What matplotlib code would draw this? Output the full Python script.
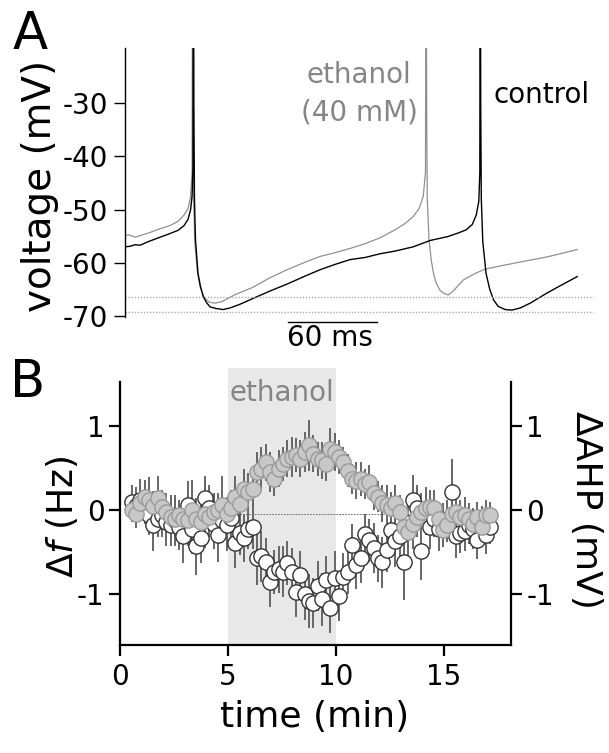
import numpy as np
import matplotlib
matplotlib.use("Agg")
import matplotlib.pyplot as plt

plt.rcParams['font.family'] = ['DejaVu Sans']
plt.rcParams['mathtext.fontset'] = 'dejavusans'
plt.rcParams['axes.unicode_minus'] = False

# ---------------- Panel A: membrane potential traces (time in ms, voltage in mV)
ctrl_t = [0, 3.4, 6.8, 10.1, 16.9, 23.6, 30.4, 35.8, 39.9, 42.6, 44.3, 45.3, 45.9, 46.2,
          46.5, 46.9, 47.6, 49.3, 51.0, 52.9, 55.1, 57.4, 61.5, 66.2, 70.9, 77.7, 86.5,
          98.0, 109.5, 121.6, 131.8, 141.9, 152.0, 162.2, 172.3, 182.4, 194.6, 206.1,
          217.6, 225.0, 230.4, 234.5, 237.2, 238.9, 239.6, 239.9, 240.2, 240.6, 241.6,
          243.8, 246.3, 248.9, 252.0, 256.8, 261.3, 266.9, 273.6, 284.9, 294.0, 305.4]
ctrl_v = [-57.0, -56.9, -56.6, -56.7, -55.9, -55.2, -54.5, -53.9, -53.0, -51.8, -50.0,
          -47.5, -42.0, 20.0, -30.0, -48.0, -55.7, -62.0, -64.5, -66.4, -67.5, -68.3,
          -68.6, -68.8, -68.5, -67.8, -66.7, -65.3, -64.0, -62.5, -61.3, -60.3, -59.4,
          -59.0, -58.3, -57.8, -57.0, -55.8, -55.1, -54.4, -53.8, -52.8, -51.0, -48.5,
          -43.0, 20.0, -30.0, -48.0, -56.0, -62.0, -65.0, -67.0, -68.2, -68.8, -68.9,
          -68.5, -67.6, -65.7, -64.3, -62.6]

eth_t = [0, 3.4, 6.8, 10.1, 16.9, 23.6, 30.4, 35.8, 39.9, 42.6, 44.3, 45.3, 45.7, 46.0,
         46.4, 47.1, 48.8, 50.7, 53.4, 56.8, 60.8, 65.5, 74.3, 86.5, 98.0, 109.5, 121.6,
         131.8, 141.9, 152.0, 162.2, 172.3, 182.4, 189.2, 194.6, 198.6, 201.4, 202.9,
         203.4, 203.7, 204.1, 205.3, 206.8, 208.3, 210.1, 212.8, 215.5, 218.4, 221.6,
         228.6, 236.5, 243.2, 253.4, 262.4, 273.6, 284.9, 294.0, 305.4]
eth_v = [-54.8, -54.8, -55.2, -54.9, -54.3, -53.6, -53.0, -52.2, -51.0, -49.8, -47.5,
         -43.0, 20.0, -30.0, -48.0, -56.0, -61.5, -64.5, -66.5, -67.4, -67.6, -67.3,
         -66.0, -64.6, -62.8, -61.3, -59.9, -58.8, -58.1, -57.3, -56.4, -55.3, -53.8,
         -52.6, -51.3, -49.8, -47.5, -43.0, 20.0, -30.0, -48.0, -55.7, -59.5, -62.0,
         -63.8, -65.2, -65.8, -66.05, -65.3, -63.2, -62.0, -61.2, -60.6, -60.1, -59.5,
         -58.9, -58.3, -57.5]

ahp_levels = [-66.4, -69.25]          # dotted reference lines (mV)
volt_ticks = [-30, -40, -50, -60, -70]
scalebar_ms = [110, 170]

# ---------------- Panel B: time course (min)
time_min = [0.55, 0.75, 0.95, 1.15, 1.35, 1.55, 1.75, 1.95, 2.15, 2.35, 2.55, 2.75,
            2.95, 3.15, 3.35, 3.55, 3.75, 3.95, 4.15, 4.35, 4.55, 4.75, 4.95, 5.15,
            5.35, 5.55, 5.75, 5.95, 6.15, 6.35, 6.55, 6.75, 6.95, 7.15, 7.35, 7.55,
            7.75, 7.95, 8.15, 8.35, 8.55, 8.75, 8.95, 9.15, 9.35, 9.55, 9.75, 9.95,
            10.15, 10.35, 10.55, 10.75, 10.95, 11.15, 11.35, 11.55, 11.75, 11.95,
            12.15, 12.35, 12.55, 12.75, 12.95, 13.15, 13.35, 13.55, 13.75, 13.95,
            14.15, 14.35, 14.55, 14.75, 14.95, 15.15, 15.35, 15.55, 15.75, 15.95,
            16.15, 16.35, 16.55, 16.75, 16.95, 17.15]

delta_f = [0.10, 0.05, 0.12, 0.02, -0.06, -0.18, -0.10, -0.06, -0.14, -0.18, -0.12,
           -0.20, -0.31, 0.06, -0.22, -0.43, -0.33, 0.14, 0.02, -0.16, -0.30, -0.12,
           -0.18, -0.09, -0.39, -0.27, -0.33, -0.22, -0.20, -0.57, -0.55, -0.61, -0.85,
           -0.73, -0.70, -0.73, -0.63, -0.73, -0.97, -0.77, -1.00, -1.08, -1.10, -0.90,
           -1.06, -0.83, -1.16, -0.81, -1.02, -0.79, -0.73, -0.41, -0.65, -0.57, -0.28,
           -0.36, -0.45, -0.57, -0.62, -0.47, -0.23, -0.37, -0.31, -0.61, -0.15, 0.12,
           0.02, -0.49, -0.05, -0.20, -0.10, -0.22, -0.15, -0.10, 0.22, -0.31, -0.27,
           -0.25, -0.18, -0.22, -0.36, -0.15, -0.30, -0.20]
delta_f_err = [0.20, 0.22, 0.25, 0.18, 0.24, 0.30, 0.22, 0.26, 0.28, 0.25, 0.30, 0.27,
               0.32, 0.28, 0.30, 0.34, 0.30, 0.26, 0.28, 0.30, 0.32, 0.26, 0.30, 0.28,
               0.30, 0.26, 0.28, 0.24, 0.26, 0.32, 0.30, 0.28, 0.30, 0.26, 0.28, 0.30,
               0.26, 0.28, 0.30, 0.28, 0.30, 0.32, 0.30, 0.30, 0.32, 0.28, 0.30, 0.32,
               0.30, 0.28, 0.26, 0.24, 0.28, 0.30, 0.24, 0.26, 0.30, 0.28, 0.30, 0.26,
               0.28, 0.30, 0.26, 0.46, 0.30, 0.30, 0.28, 0.34, 0.24, 0.26, 0.22, 0.26,
               0.24, 0.22, 0.39, 0.26, 0.24, 0.24, 0.22, 0.24, 0.22, 0.20, 0.22, 0.20]

delta_ahp = [0.00, -0.05, 0.08, 0.16, 0.12, 0.05, 0.14, 0.04, -0.02, -0.08, -0.10,
             -0.06, -0.10, -0.12, 0.00, -0.10, -0.14, -0.05, -0.08, -0.02, 0.00, 0.06,
             -0.04, 0.02, 0.16, 0.07, 0.25, 0.22, 0.25, 0.45, 0.49, 0.57, 0.45, 0.37,
             0.49, 0.55, 0.61, 0.63, 0.65, 0.61, 0.69, 0.77, 0.67, 0.61, 0.59, 0.55,
             0.73, 0.69, 0.63, 0.57, 0.47, 0.37, 0.35, 0.37, 0.31, 0.33, 0.20, 0.16,
             0.08, 0.06, 0.02, 0.08, -0.02, -0.20, -0.26, -0.16, -0.08, -0.02, 0.02,
             0.04, 0.02, -0.10, -0.24, -0.18, -0.04, -0.02, -0.08, -0.06, -0.10, -0.16,
             -0.08, -0.20, -0.06, -0.06]
delta_ahp_err = [0.14, 0.16, 0.18, 0.20, 0.27, 0.18, 0.27, 0.20, 0.22, 0.26, 0.24, 0.18,
                 0.22, 0.30, 0.36, 0.24, 0.20, 0.40, 0.24, 0.22, 0.20, 0.34, 0.20, 0.22,
                 0.24, 0.20, 0.24, 0.22, 0.20, 0.24, 0.26, 0.22, 0.24, 0.20, 0.22, 0.20,
                 0.22, 0.24, 0.20, 0.22, 0.24, 0.30, 0.22, 0.20, 0.22, 0.20, 0.24, 0.22,
                 0.20, 0.18, 0.20, 0.18, 0.22, 0.20, 0.18, 0.20, 0.20, 0.18, 0.22, 0.24,
                 0.20, 0.22, 0.20, 0.22, 0.28, 0.30, 0.24, 0.22, 0.26, 0.20, 0.22, 0.18,
                 0.20, 0.20, 0.22, 0.18, 0.20, 0.22, 0.18, 0.16, 0.18, 0.16, 0.18, 0.16]

ethanol_period = [5, 10]
x_ticks = [0, 5, 10, 15]
y_ticks = [-1, 0, 1]

# ---------------- figure
W, H = 609, 753
fig = plt.figure(figsize=(W / 100, H / 100), dpi=100)

def fx(px):
    return px / W

def fy(py):
    return 1 - py / H

TICK_FS = 20
LABEL_FS = 26
GRAY = '#858585'

# Panel A
axA = fig.add_axes([fx(125), fy(317), fx(590) - fx(125), fy(48) - fy(317)])
axA.plot(eth_t, eth_v, color='#909090', lw=0.9)
axA.plot(ctrl_t, ctrl_v, color='black', lw=1.0)
for lv in ahp_levels:
    axA.plot([0, 316], [lv, lv], color='#ababab', lw=1.0, ls=(0, (1, 1.2)), clip_on=False)
axA.set_xlim(0, 314)
axA.set_ylim(-70.2, -19.6)
for s in ['top', 'right', 'bottom']:
    axA.spines[s].set_visible(False)
axA.spines['left'].set_linewidth(1.0)
axA.set_yticks(volt_ticks)
axA.set_yticklabels([str(v) for v in volt_ticks])
axA.tick_params(axis='y', direction='out', length=8, width=1.0, labelsize=TICK_FS, pad=4)
axA.set_xticks([])
axA.plot(scalebar_ms, [-71.2, -71.2], color='black', lw=1.0, clip_on=False)

fig.text(fx(40), fy(186), 'voltage (mV)', rotation=90, ha='center', va='center', fontsize=28)
fig.text(fx(330), fy(338), '60 ms', ha='center', va='center', fontsize=TICK_FS)
fig.text(fx(359), fy(75), 'ethanol', ha='center', va='center', fontsize=TICK_FS, color=GRAY)
fig.text(fx(359), fy(112), '(40 mM)', ha='center', va='center', fontsize=TICK_FS, color=GRAY)
fig.text(fx(542), fy(95), 'control', ha='center', va='center', fontsize=TICK_FS, color='black')
fig.text(fx(30), fy(35), 'A', ha='center', va='center', fontsize=37)

# Panel B
axB = fig.add_axes([fx(119.7), fy(645), fx(511) - fx(119.7), fy(382) - fy(645)])
axB.axvspan(ethanol_period[0], ethanol_period[1], ymin=0, ymax=1.053, color='#e8e8e8',
            lw=0, zorder=0, clip_on=False)
axB.plot([0.3, 17.5], [-0.04, -0.04], color='#555555', lw=0.6, ls=(0, (2, 1.5)), zorder=1)
axB.errorbar(time_min, delta_f, yerr=delta_f_err, fmt='none', ecolor='#666666',
             elinewidth=1.4, capsize=0, zorder=2)
axB.errorbar(time_min, delta_ahp, yerr=delta_ahp_err, fmt='none', ecolor='#666666',
             elinewidth=1.4, capsize=0, zorder=2)
axB.plot(time_min, delta_f, 'o', ms=11, mfc='white', mec='#333333', mew=1.0, zorder=3)
axB.plot(time_min, delta_ahp, 'o', ms=11, mfc='#c8c8c8', mec='#9a9a9a', mew=1.0, zorder=4)
axB.set_xlim(0, 18.1)
axB.set_ylim(-1.6, 1.52)
axB.spines['top'].set_visible(False)
for s in ['left', 'right', 'bottom']:
    axB.spines[s].set_linewidth(1.6)
axB.set_xticks(x_ticks)
axB.set_yticks(y_ticks)
axB.tick_params(axis='both', direction='out', length=8, width=1.6, labelsize=TICK_FS)
axB.tick_params(axis='y', pad=3)
axB.tick_params(axis='x', pad=5)
axB.tick_params(axis='y', which='both', right=True, labelright=True, left=True, labelleft=True)
axB.text(7.5, 1.30, 'ethanol', ha='center', va='baseline', fontsize=TICK_FS, color=GRAY)

fig.text(fx(62), fy(517), r'Δ$f$ (Hz)', rotation=90, ha='center', va='center', fontsize=LABEL_FS)
fig.text(fx(586), fy(510), 'ΔAHP (mV)', rotation=270, ha='center', va='center', fontsize=LABEL_FS)
fig.text(fx(315), fy(717), 'time (min)', ha='center', va='center', fontsize=LABEL_FS)
fig.text(fx(28), fy(383), 'B', ha='center', va='center', fontsize=37)

fig.savefig('out.png', dpi=100)
